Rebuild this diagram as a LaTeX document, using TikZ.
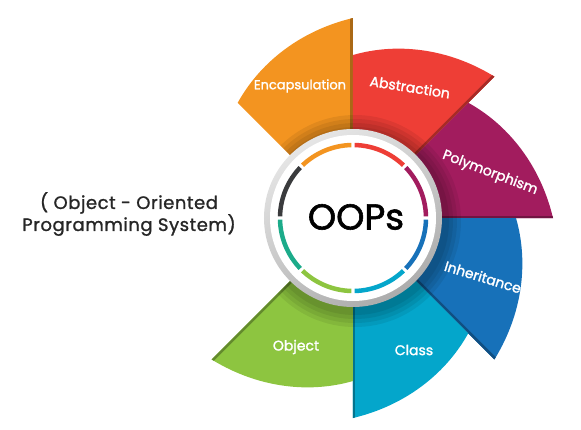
\documentclass[tikz,border=0pt]{standalone}
\usepackage{fontspec}
\setmainfont{Poppins}
\newfontfamily\petalfont{Poppins}[FakeBold=1.6]
\newfontfamily\sidefont{Poppins}[FakeBold=1.2, LetterSpace=3]
\definecolor{encap}{HTML}{F39420}
\definecolor{abstr}{HTML}{EE3E36}
\definecolor{poly}{HTML}{A21C5E}
\definecolor{inher}{HTML}{1771B9}
\definecolor{cls}{HTML}{04A6CB}
\definecolor{obj}{HTML}{8DC540}
\definecolor{ringteal}{HTML}{1CAB8A}
\definecolor{ringgray}{HTML}{3A3B3D}
\tikzset{petallabel/.style={white, font=\petalfont\fontsize{14}{16}\selectfont}}

\begin{document}
\begin{tikzpicture}[x=1pt,y=1pt]
    \useasboundingbox (-353,-211) rectangle (228,218);
    \coordinate (c0) at (0,0);
    % petals, each one 45 degrees, outer edge growing clockwise
    \foreach \a/\b/\col in {135/90/encap,90/45/abstr,45/0/poly,0/-45/inher,-45/-90/cls,-90/-135/obj}{
      \fill[\col] (c0) -- plot[variable=\t, domain=\a:\b, samples=25, smooth]
        ({(163+37*(\a-\t)/45)*cos(\t)},{(163+37*(\a-\t)/45)*sin(\t)}) -- cycle;
      \begin{scope}
        \clip (c0) -- plot[variable=\t, domain=\a:\b, samples=25, smooth]
          ({(163+37*(\a-\t)/45)*cos(\t)},{(163+37*(\a-\t)/45)*sin(\t)}) -- cycle;
        \draw[line width=5pt, \col!70!black] (c0) -- (\b:210);
      \end{scope}
    }
    % shadow of the disc, only on the petals
    \begin{scope}
      \clip (c0) -- (135:250) arc[start angle=135, end angle=-135, radius=250] -- cycle;
      \foreach \r in {106,102,98,94}
        \fill[black, opacity=0.07] (2,-3) circle (\r);
    \end{scope}
    % grey rim and white disc
    \shade[top color=gray!20, bottom color=gray!65, shading angle=30] (c0) circle (89);
    \fill[white] (c0) circle (83);
    % coloured ring
    \foreach \s/\col in {90/encap,135/ringgray,180/ringteal,225/obj,270/cls,315/inher,0/poly,45/abstr}
      \draw[\col, line width=4.5pt] (\s+1.3:73) arc[start angle=\s+1.3, end angle=\s+43.7, radius=73];
    \node[font=\petalfont\fontsize{36}{40}\selectfont] (oops) at (3,1) {OOPs};
    % labels
    \node[petallabel, font=\petalfont\fontsize{13}{15}\selectfont] (enc) at (-53,132) {Encapsulation};
    \node[petallabel, rotate=-9] (abs) at (57,131) {Abstraction};
    \node[petallabel, rotate=-21] (pol) at (137,45) {Polymorphism};
    \node[petallabel, rotate=-17] (inh) at (130,-59) {Inheritance};
    \node[petallabel] (cla) at (61,-132) {Class};
    \node[petallabel] (obj) at (-57,-129) {Object};
    \node[align=center, text=black!85, font=\sidefont\fontsize{18}{22}\selectfont] (full) at (-224,4)
      {( Object - Oriented\\Programming System)};
\end{tikzpicture}
\end{document}
